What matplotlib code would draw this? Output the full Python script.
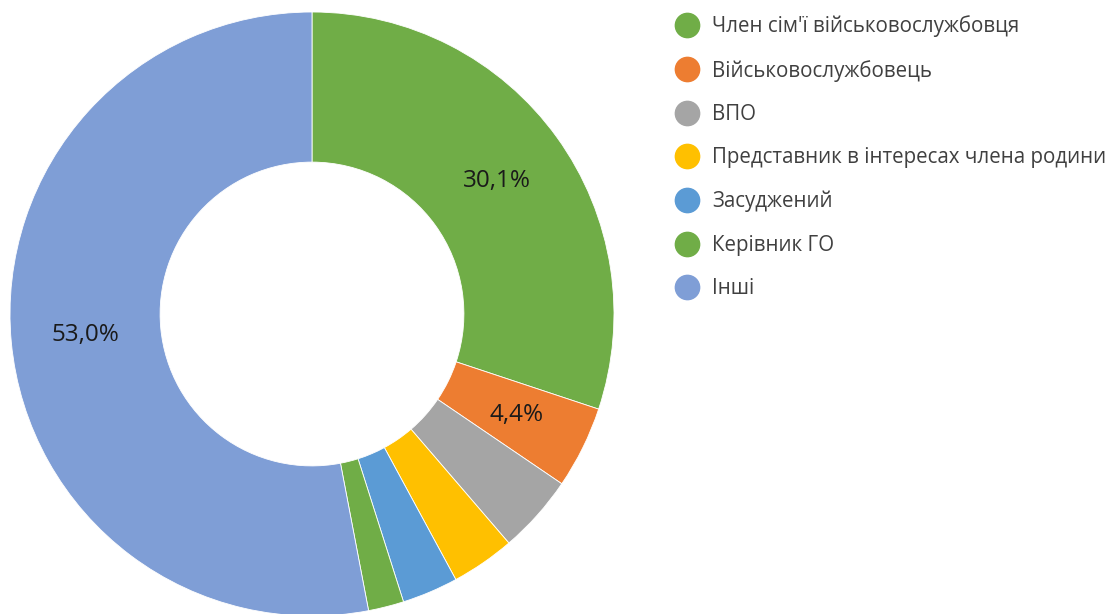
import matplotlib.pyplot as plt
from matplotlib.lines import Line2D
import numpy as np

categories = ["Член сім'ї військовослужбовця", "Військовослужбовець", "ВПО",
              "Представник в інтересах члена родини", "Засуджений", "Керівник ГО", "Інші"]
shares = [30.1, 4.4, 4.2, 3.4, 3.0, 1.9, 53.0]
shown_labels = [0, 1, 6]  # only these slices carry a percent label
colors = ["#70AD47", "#ED7D31", "#A5A5A5", "#FFC000", "#5B9BD5", "#70AD47", "#7F9ED6"]

plt.rcParams['font.family'] = ['Open Sans', 'DejaVu Sans']

fig = plt.figure(figsize=(11.13, 6.14), dpi=100)
ax = fig.add_axes([10 / 1113, -2 / 614, 604 / 1113, 604 / 614])

wedges, _ = ax.pie(shares, colors=colors, startangle=90, counterclock=False,
                   radius=1.0, wedgeprops=dict(width=0.497, edgecolor='white', linewidth=0.6))

# percent labels for the big slices, centred in the ring
for i in shown_labels:
    w = wedges[i]
    mid = np.deg2rad((w.theta1 + w.theta2) / 2)
    r = 0.755
    txt = ("%.1f%%" % shares[i]).replace('.', ',')
    ax.text(r * np.cos(mid), r * np.sin(mid), txt, ha='center', va='center',
            fontsize=17.5, color='#1a1a1a')

ax.set_xlim(-1, 1)
ax.set_ylim(-1, 1)
ax.set_aspect('equal')
ax.axis('off')

handles = [Line2D([], [], marker='o', linestyle='none', markersize=17.5,
                  markerfacecolor=c, markeredgecolor=c) for c in colors]
fig.legend(handles, categories, loc='upper left', bbox_to_anchor=(658 / 1113, 1 + 3 / 614),
           frameon=False, fontsize=14.8, labelspacing=1.09, handletextpad=0.75,
           labelcolor='#404040', handlelength=1.0)

fig.savefig('out.png', dpi=100)
